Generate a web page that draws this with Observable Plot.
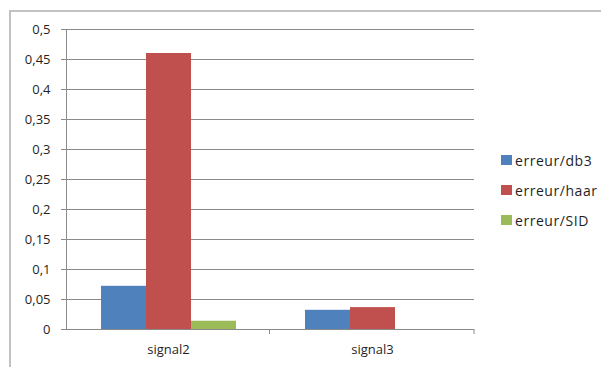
<!DOCTYPE html>
<html>
<head>
<meta charset="utf-8">
<script src="https://cdn.jsdelivr.net/npm/d3@7"></script>
<script src="https://cdn.jsdelivr.net/npm/@observablehq/plot@0.6"></script>
<style>
  html, body { margin: 0; padding: 0; background: #fff; }
  #wrap { position: relative; width: 601px; height: 367px; overflow: hidden; font-family: "Open Sans", sans-serif; }
  #frame { position: absolute; left: 9px; top: 10px; width: 800px; height: 600px; border-left: 2px solid #c2c2c2; border-top: 2px solid #c2c2c2; box-sizing: border-box; }
  #chart { position: absolute; left: 0; top: 0; }
  #chart svg text { fill: #1f1f1f; }
  #legend { position: absolute; left: 501px; top: 150px; }
  .item { position: absolute; left: 0; height: 20px; display: flex; align-items: center; white-space: nowrap; font-size: 14px; color: #1f1f1f; letter-spacing: 0.55px; }
  .sw { width: 11px; height: 10px; margin-right: 3px; }
</style>
</head>
<body>
<div id="wrap">
  <div id="frame"></div>
  <div id="chart"></div>
  <div id="legend"></div>
</div>
<script>
// ---- data ----
const categories = ["signal2", "signal3"];
const series = ["erreur/db3", "erreur/haar", "erreur/SID"];
const db3Values = [0.072, 0.032];
const haarValues = [0.46, 0.0365];
const sidValues = [0.0138, null];
const seriesColors = ["#4F81BD", "#C0504D", "#9BBB59"];
const yTicks = [0, 0.05, 0.1, 0.15, 0.2, 0.25, 0.3, 0.35, 0.4, 0.45, 0.5];
const yTickLabels = ["0", "0,05", "0,1", "0,15", "0,2", "0,25", "0,3", "0,35", "0,4", "0,45", "0,5"];

const valuesBySeries = [db3Values, haarValues, sidValues];
const rows = [];
categories.forEach((c, i) => {
  series.forEach((s, j) => {
    const v = valuesBySeries[j][i];
    if (v != null) rows.push({category: c, series: s, value: v});
  });
});

const chart = Plot.plot({
  width: 601,
  height: 367,
  marginLeft: 65,
  marginRight: 127,
  marginTop: 29,
  marginBottom: 38,
  style: {fontFamily: "'Open Sans', sans-serif", fontSize: "13px", color: "#8a8a8a", background: "transparent", overflow: "visible"},
  facet: {data: rows, x: "category"},
  fx: {domain: categories, padding: 0, label: null, axis: "bottom", tickSize: 0, tickPadding: 15},
  x: {domain: series, paddingInner: 0, paddingOuter: 0.75, axis: null},
  y: {domain: [0, 0.5], ticks: yTicks, tickFormat: d => yTickLabels[yTicks.indexOf(d)], tickSize: 5, tickPadding: 11, label: null, line: true},
  color: {domain: series, range: seriesColors},
  marks: [
    Plot.ruleY(yTicks, {stroke: "#8a8a8a", strokeWidth: 1}),
    Plot.barY(rows, {x: "series", y: "value", fill: "series"})
  ]
});
document.getElementById("chart").appendChild(chart);

// category boundary ticks (Excel style) from the fx and y scales
const fx = chart.scale("fx");
const ys = chart.scale("y");
const svg = d3.select(chart.tagName.toLowerCase() === "svg" ? chart : chart.querySelector("svg"));
const r0 = fx.range[0], r1 = fx.range[1];
const step = (r1 - r0) / categories.length;
const y0 = ys.range[0];
categories.forEach((c, i) => {
  svg.append("line")
    .attr("x1", r0 + step * (i + 1)).attr("x2", r0 + step * (i + 1))
    .attr("y1", y0).attr("y2", y0 + 5)
    .attr("stroke", "#8a8a8a");
});

// legend
const legend = d3.select("#legend");
series.forEach((s, i) => {
  const it = legend.append("div").attr("class", "item").style("top", (i * 30) + "px");
  it.append("div").attr("class", "sw").style("background", seriesColors[i]);
  it.append("span").text(s);
});
</script>
</body>
</html>
